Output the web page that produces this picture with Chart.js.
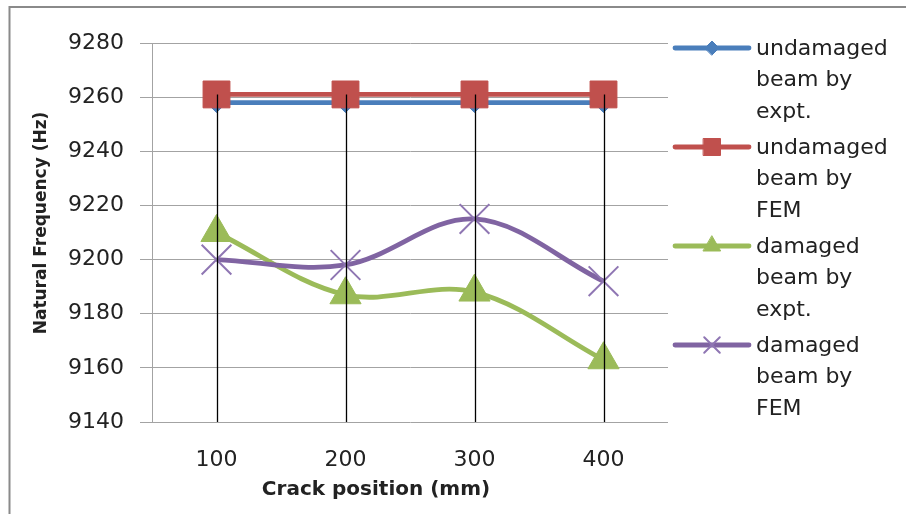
<!DOCTYPE html>
<html>
<head>
<meta charset="utf-8">
<script src="https://cdn.jsdelivr.net/npm/chart.js@4.4.1/dist/chart.umd.min.js"></script>
<style>
  html, body { margin: 0; padding: 0; background: #ffffff; }
  #wrap { width: 906px; height: 514px; }
</style>
</head>
<body>
<div id="wrap"><canvas id="c" width="906" height="514"></canvas></div>
<script>
// Crack positions along the beam (mm)
const crackPositions = ['100', '200', '300', '400'];

// Natural frequency (Hz) for each case
const undamagedExpt = [9258, 9258, 9258, 9258];
const undamagedFem  = [9261, 9261, 9261, 9261];
const damagedExpt   = [9210, 9187, 9188, 9163];
const damagedFem    = [9200, 9198, 9215, 9192];

// Frequency axis range and tick step
const yMin = 9140;
const yMax = 9280;
const yStep = 20;

// Text
const seriesLabels = [
  ['undamaged', 'beam by', 'expt.'],
  ['undamaged', 'beam by', 'FEM'],
  ['damaged', 'beam by', 'expt.'],
  ['damaged', 'beam by', 'FEM']
];
const xTitle = 'Crack position (mm)';
const yTitle = 'Natural Frequency (Hz)';

const FONT = '"DejaVu Sans", Verdana, sans-serif';
const TEXT = '#222222';
const GRID = '#a3a3a3';

// White background and the outer frame
const framePlugin = {
  id: 'frame',
  beforeDraw(chart) {
    const ctx = chart.ctx;
    ctx.save();
    ctx.fillStyle = '#ffffff';
    ctx.fillRect(0, 0, chart.width, chart.height);
    ctx.strokeStyle = '#8a8a8a';
    ctx.lineWidth = 2;
    ctx.beginPath();
    ctx.moveTo(9.5, chart.height);
    ctx.lineTo(9.5, 7);
    ctx.lineTo(chart.width, 7);
    ctx.stroke();
    ctx.restore();
  }
};

// Vertical drop lines from the highest point of each category down to the axis
const dropLinePlugin = {
  id: 'dropLines',
  afterDatasetsDraw(chart) {
    const ctx = chart.ctx;
    const xs = chart.scales.x, ys = chart.scales.y;
    const bottom = chart.chartArea.bottom;
    ctx.save();
    ctx.strokeStyle = '#000000';
    ctx.lineWidth = 1.3;
    crackPositions.forEach((_, i) => {
      let top = -Infinity;
      chart.data.datasets.forEach(ds => { top = Math.max(top, ds.data[i]); });
      const x = Math.round(xs.getPixelForValue(i)) + 0.5;
      ctx.beginPath();
      ctx.moveTo(x, ys.getPixelForValue(top));
      ctx.lineTo(x, bottom);
      ctx.stroke();
    });
    ctx.restore();
  }
};

// Axis titles
const axisTitlePlugin = {
  id: 'axisTitles',
  afterDraw(chart) {
    const ctx = chart.ctx;
    ctx.save();
    ctx.fillStyle = TEXT;
    ctx.textAlign = 'center';
    ctx.textBaseline = 'middle';
    ctx.font = 'bold 20px ' + FONT;
    ctx.fillText(xTitle, 376, 490);
    ctx.translate(42, 223);
    ctx.rotate(-Math.PI / 2);
    ctx.font = 'bold 17px ' + FONT;
    ctx.fillText(yTitle, 0, 0);
    ctx.restore();
  }
};

// Legend on the right with wrapped labels
const legendPlugin = {
  id: 'sideLegend',
  afterDraw(chart) {
    const ctx = chart.ctx;
    const x0 = 675, x1 = 749, tx = 756;
    const firstY = 48, entryGap = 99, lineGap = 31.5;
    const drawPoint = Chart.helpers && Chart.helpers.drawPoint;
    ctx.save();
    chart.data.datasets.forEach((ds, i) => {
      const y = firstY + i * entryGap;
      ctx.strokeStyle = ds.borderColor;
      ctx.lineWidth = ds.borderWidth;
      ctx.lineCap = 'round';
      ctx.beginPath();
      ctx.moveTo(x0, y);
      ctx.lineTo(x1, y);
      ctx.stroke();
      if (drawPoint) {
        ctx.fillStyle = ds.pointBackgroundColor;
        ctx.strokeStyle = ds.pointBorderColor;
        ctx.lineWidth = ds.pointBorderWidth;
        drawPoint(ctx, {
          pointStyle: ds.pointStyle,
          radius: ds.legendRadius,
          rotation: 0,
          borderWidth: ds.pointBorderWidth
        }, (x0 + x1) / 2, y);
      }
      ctx.fillStyle = TEXT;
      ctx.font = '22px ' + FONT;
      ctx.textAlign = 'left';
      ctx.textBaseline = 'middle';
      ds.label.forEach((line, k) => {
        ctx.fillText(line, tx, y + 1 + k * lineGap);
      });
    });
    ctx.restore();
  }
};

const series = [
  { data: undamagedExpt, color: '#4a7ebb', style: 'rectRot',  radius: 10, legendRadius: 7,  bw: 1, order: 4 },
  { data: undamagedFem,  color: '#c0504d', style: 'rect',     radius: 19, legendRadius: 12, bw: 1, order: 3 },
  { data: damagedExpt,   color: '#9bbb59', style: 'triangle', radius: 18, legendRadius: 10, bw: 1, order: 2 },
  { data: damagedFem,    color: '#8064a2', style: 'crossRot', radius: 21, legendRadius: 11, bw: 2, order: 1 }
];

const datasets = series.map((s, i) => ({
  label: seriesLabels[i],
  data: s.data,
  borderColor: s.color,
  backgroundColor: s.color,
  borderWidth: 4.8,
  tension: 0.35,
  pointStyle: s.style,
  pointRadius: s.radius,
  pointHoverRadius: s.radius,
  pointBackgroundColor: s.color,
  pointBorderColor: s.style === 'crossRot' ? '#8f76b3' : s.color,
  pointBorderWidth: s.bw,
  legendRadius: s.legendRadius,
  order: s.order,
  fill: false
}));

new Chart(document.getElementById('c'), {
  type: 'line',
  data: { labels: crackPositions, datasets },
  plugins: [framePlugin, dropLinePlugin, axisTitlePlugin, legendPlugin],
  options: {
    responsive: false,
    animation: false,
    devicePixelRatio: 1,
    layout: { padding: { top: 43, right: 238, left: 0, bottom: 0 } },
    plugins: {
      legend: { display: false },
      tooltip: { enabled: false },
      title: { display: false }
    },
    scales: {
      x: {
        type: 'category',
        offset: true,
        grid: { display: false },
        border: { display: false },
        ticks: {
          color: TEXT,
          font: { family: FONT, size: 22 },
          padding: 17,
          maxRotation: 0
        },
        afterFit(scale) { scale.height = 92; }
      },
      y: {
        min: yMin,
        max: yMax,
        grid: { color: GRID, lineWidth: 1, tickLength: 12, drawTicks: true },
        border: { display: true, color: GRID, width: 1 },
        ticks: {
          stepSize: yStep,
          color: TEXT,
          font: { family: FONT, size: 22 },
          padding: 16,
          callback: v => String(v)
        },
        afterFit(scale) { scale.width = 152; }
      }
    }
  }
});
</script>
</body>
</html>
